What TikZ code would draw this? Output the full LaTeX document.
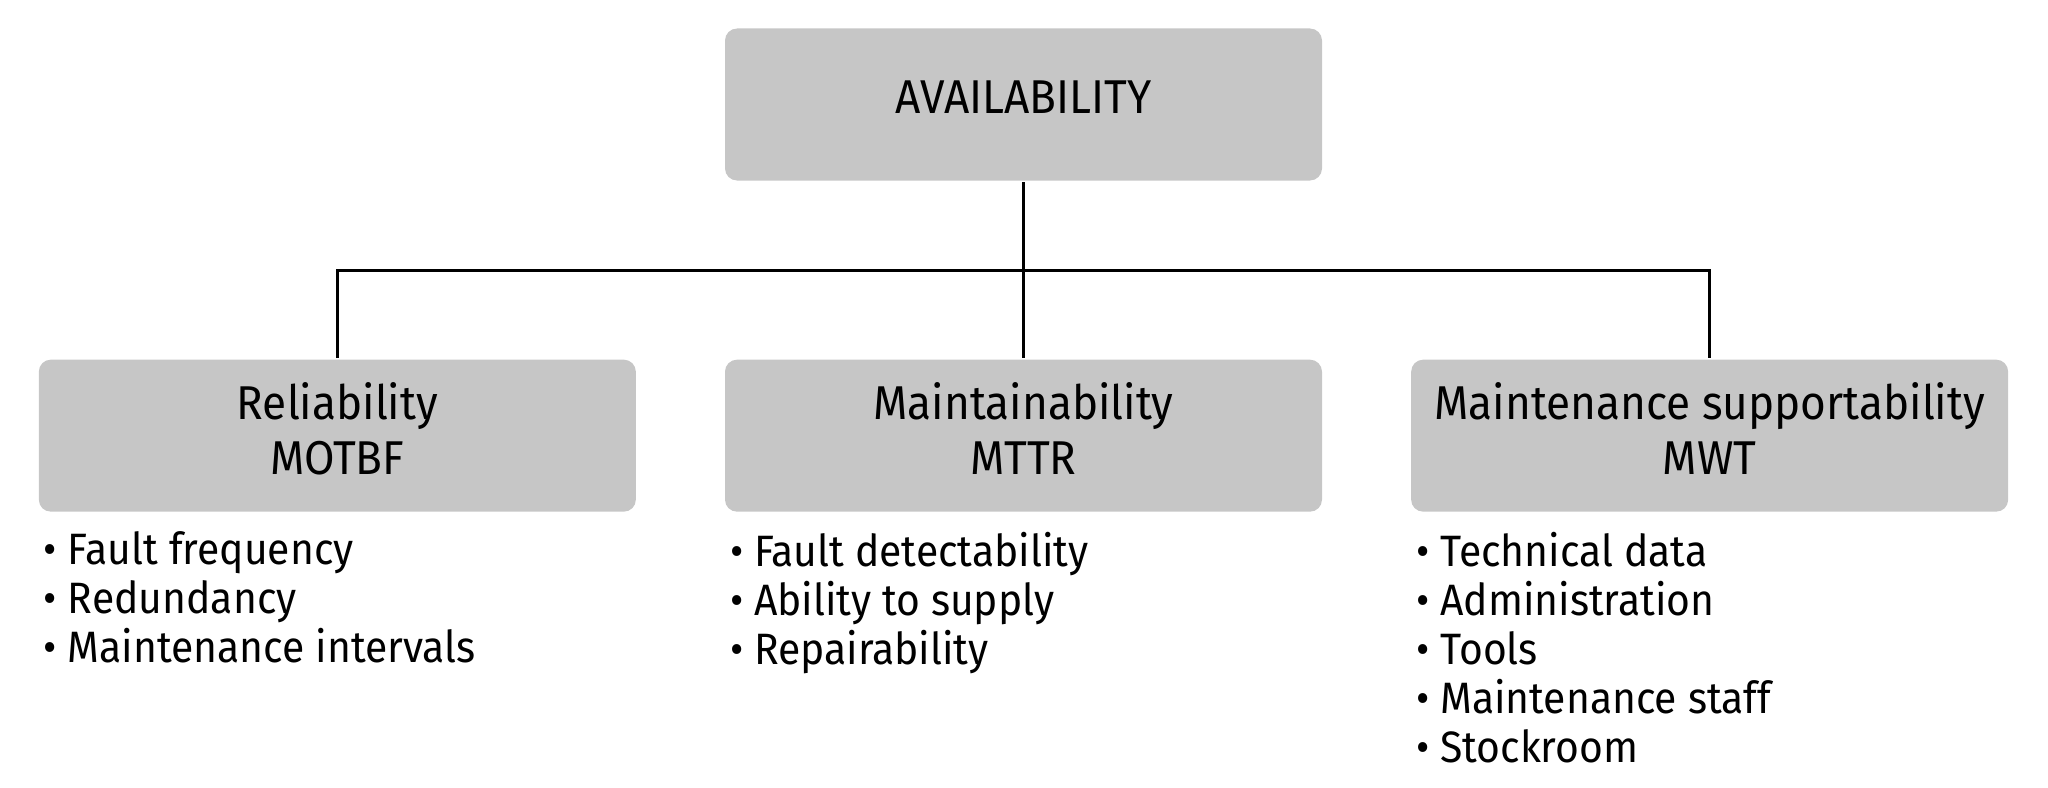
\documentclass[tikz,border=0pt]{standalone}
\usepackage{fontspec}
\setmainfont{Fira Sans}[FakeStretch=0.93]
\usetikzlibrary{positioning}
\definecolor{boxgray}{HTML}{C6C6C6}

\begin{document}
\begin{tikzpicture}[-,line width=0.9pt,node distance=1.76cm and 0.86cm,
		box/.style={fill=boxgray,rounded corners=0.12cm,minimum width=5.97cm,
			minimum height=1.52cm,text depth=0.14cm,align=center,
			font=\fontsize{13.5}{15.6}\selectfont},
		list/.style={align=left,inner sep=0pt,font=\fontsize{12.5}{13.95}\selectfont}]
		\useasboundingbox (0,0) rectangle (20.48,-7.88);

		\node[box] (avail) at (10.235,-1.045) {AVAILABILITY};
		\node[box] (maint) [below=of avail] {Maintainability\\MTTR};
		\node[box] (rel) [left=of maint] {Reliability\\MOTBF};
		\node[box] (supp) [right=of maint] {Maintenance supportability\\MWT};
		\coordinate[below=0.88cm of avail] (bar);

		\node[list] (rellist) [below=0.17cm of rel.south west, anchor=north west, xshift=0.05cm]
			{• Fault frequency\\• Redundancy\\• Maintenance intervals};
		\node[list] (maintlist) [below=0.17cm of maint.south west, anchor=north west, xshift=0.05cm]
			{• Fault detectability\\• Ability to supply\\• Repairability};
		\node[list] (supplist) [below=0.17cm of supp.south west, anchor=north west, xshift=0.05cm]
			{• Technical data\\• Administration\\• Tools\\• Maintenance staff\\• Stockroom};

		\draw (avail) -- (maint);
		\draw (rel.north) |- (bar) -| (supp.north);
\end{tikzpicture}
\end{document}
